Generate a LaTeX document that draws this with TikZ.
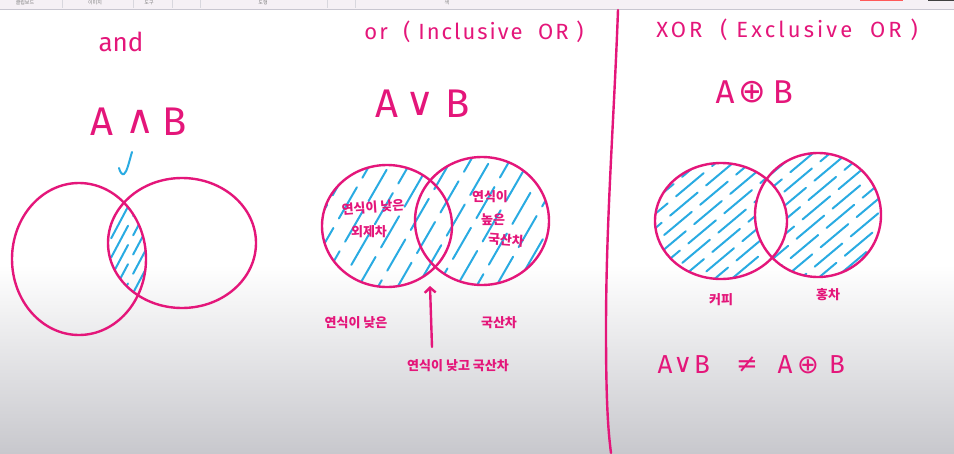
\documentclass[tikz,border=0pt]{standalone}
\usepackage{fontspec}
\setmainfont{Fira Sans}
\newfontfamily\kr{Noto Sans CJK KR}
\newfontfamily\sym{DejaVu Sans}
\usetikzlibrary{arrows.meta,calc}
\definecolor{pen}{RGB}{228,22,122}
\definecolor{hl}{RGB}{41,171,226}
\definecolor{bar}{RGB}{245,240,245}
\definecolor{barline}{RGB}{200,198,208}
\definecolor{bottomgray}{RGB}{200,200,205}
\tikzset{
  penline/.style={draw=pen, line width=2.4pt, line cap=round, line join=round},
  hatch/.style={draw=hl, line width=2pt, line cap=round},
  hw/.style={text=pen, inner sep=0pt, font=\fontsize{#1}{#1}\selectfont},
  hwsp/.style={text=pen, inner sep=0pt, font=\fontsize{22}{22}\selectfont\addfontfeatures{LetterSpace=#1}},
  hwsym/.style={text=pen, inner sep=0pt, font=\sym\fontsize{#1}{#1}\selectfont},
  hwkr/.style={text=pen, inner sep=0pt, font=\kr\bfseries\fontsize{13}{15}\selectfont},
  tb/.style={text=gray, inner sep=0pt, font=\kr\fontsize{5}{5}\selectfont}
}
\newcommand\hatchfill[5]{% cx, cy, spacing, angle, count
  \foreach \k in {-#5,...,#5}{
    \pgfmathsetmacro\ph{mod(\k*17+940,47)}
    \draw[hatch, dash pattern=on 36pt off 11pt, dash phase=\ph pt]
      ($(#1,#2)+(#4+90:\k*#3)+(#4:-130)$) -- ++(#4:260);
  }}
\begin{document}
\begin{tikzpicture}[x=1pt,y=-1pt]
\useasboundingbox (0,0) rectangle (954,453);
\fill[white] (0,0) rectangle (954,453);
\shade[top color=white,bottom color=bottomgray] (0,265) rectangle (954,453);
% toolbar
\fill[bar] (0,0) rectangle (954,9);
\draw[barline, line width=1pt] (0,9.5) -- (954,9.5);
\foreach \x in {62,133,172,200,327,355} \draw[barline!70, line width=0.4pt] (\x,0) -- (\x,8);
\fill[red!65!white] (860,0) rectangle (903,1.3);
\fill[darkgray] (928,0) rectangle (954,1.3);
\node[tb] (tb1) at (25,3) {클립보드};
\node[tb] (tb2) at (95,3) {이미지};
\node[tb] (tb3) at (149,3) {도구};
\node[tb] (tb4) at (263,3) {도형};
\node[tb] (tb5) at (447,3) {색};

% ---------- AND ----------
\node[hw=26] (andt) at (121,42) {and};
\node[hw=40] (a1) at (102,122) {A};
\node[hwsym=40] (op1) at (140,122) {∧};
\node[hw=40] (b1) at (175,122) {B};
\coordinate (L1) at (79,259);
\coordinate (R1) at (182,243);
\begin{scope}
  \clip (L1) ellipse [x radius=67pt, y radius=76pt];
  \clip (R1) ellipse [x radius=74pt, y radius=65pt];
  \hatchfill{128}{245}{9}{-62}{6}
\end{scope}
\draw[penline] (L1) ellipse [x radius=67pt, y radius=76pt];
\draw[penline] (R1) ellipse [x radius=74pt, y radius=65pt];
\draw[hatch] (132,152) .. controls (129,162) and (127,172) .. (124,174)
  .. controls (122,175) and (120,172) .. (119,168);

% ---------- OR ----------
\node[hwsp=9] (ort) at (474,32) {or \ ( Inclusive \ OR )};
\node[hw=40] (a2) at (387,104) {A};
\node[hwsym=40] (op2) at (420,104) {∨};
\node[hw=40] (b2) at (458,104) {B};
\coordinate (L2) at (387,226);
\coordinate (R2) at (482,221);
\begin{scope}
  \clip (L2) ellipse [x radius=65pt, y radius=61pt]
        (R2) ellipse [x radius=67pt, y radius=64pt];
  \hatchfill{435}{222}{17}{-60}{12}
\end{scope}
\draw[penline] (L2) ellipse [x radius=65pt, y radius=61pt];
\draw[penline] (R2) ellipse [x radius=67pt, y radius=64pt];
\node[hwkr, rotate=4] (in1) at (373,207) {연식이 낮은};
\node[hwkr] (in2) at (369,232) {외제차};
\node[hwkr] (in3) at (490,197) {연식이};
\node[hwkr] (in4) at (493,220) {높은};
\node[hwkr, rotate=-4] (in5) at (506,240) {국산차};
\node[hwkr] (lo1) at (356,323) {연식이 낮은};
\node[hwkr] (lo2) at (499,323) {국산차};
\node[hwkr] (both) at (458,366) {연식이 낮고 국산차};
\coordinate (arrS) at (432,347);
\coordinate (arrE) at (430,286);
\draw[penline, -{Straight Barb[length=5pt,width=11pt]}] (arrS) -- (arrE);

% ---------- divider ----------
\draw[penline] (618,10) .. controls (614,120) and (606,220) .. (606,330)
  .. controls (606,400) and (608,430) .. (611,453);

% ---------- XOR ----------
\node[hwsp=14] (xort) at (787,30) {XOR \ ( Exclusive \ OR )};
\node[hw=33] (a3) at (725,92) {A};
\node[hwsym=33] (op3) at (752,92) {⊕};
\node[hw=33] (b3) at (783,92) {B};
\coordinate (L3) at (721,221);
\coordinate (R3) at (818,215);
\begin{scope}[even odd rule]
  \clip (L3) ellipse [x radius=66pt, y radius=58pt]
        (R3) ellipse [x radius=63pt, y radius=62pt];
  \hatchfill{770}{218}{11}{-40}{18}
\end{scope}
\draw[penline] (L3) ellipse [x radius=66pt, y radius=58pt];
\draw[penline] (R3) ellipse [x radius=63pt, y radius=62pt];
\node[hwkr] (cof) at (721,300) {커피};
\node[hwkr] (tea) at (828,295) {홍차};

\node[hw=26] (a4) at (665,365) {A};
\node[hwsym=26] (op4) at (683,365) {∨};
\node[hw=26] (b4) at (702,365) {B};
\node[hwsym=26] (ne) at (747,365) {≠};
\node[hw=26] (a5) at (785,365) {A};
\node[hwsym=26] (op5) at (808,365) {⊕};
\node[hw=26] (b5) at (837,365) {B};
\end{tikzpicture}
\end{document}
